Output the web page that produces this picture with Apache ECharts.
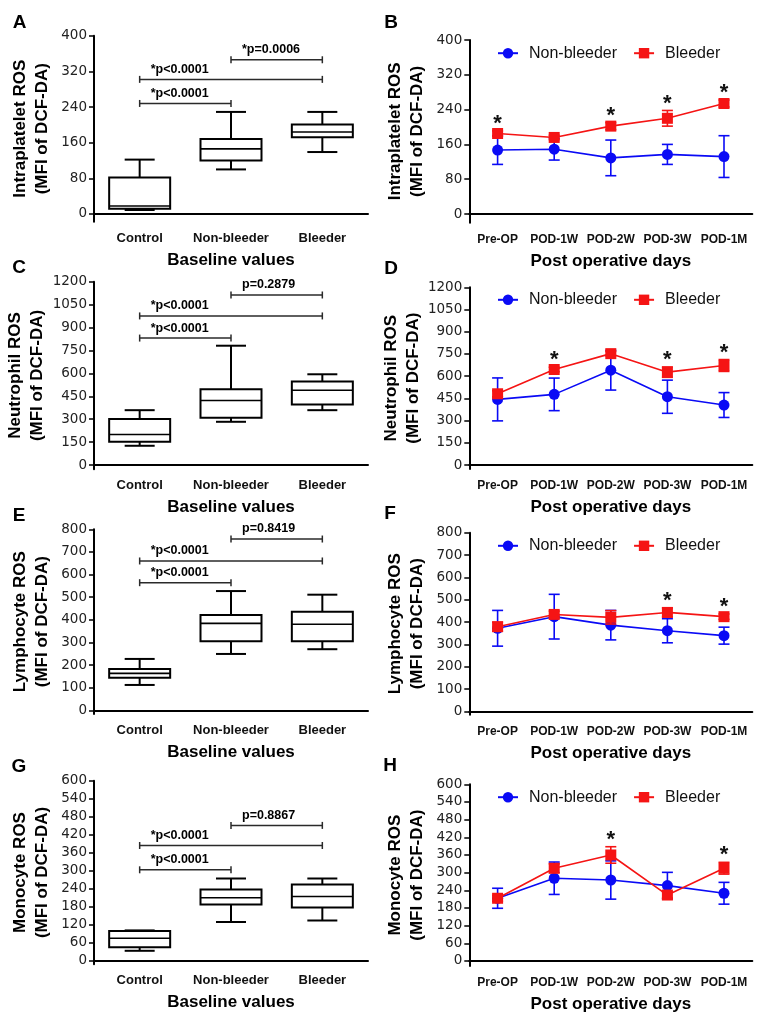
<!DOCTYPE html>
<html><head><meta charset="utf-8">
<script src="https://cdn.jsdelivr.net/npm/echarts@6/dist/echarts.min.js"></script>
<style>html,body{margin:0;padding:0;background:#fff}#c{width:764px;height:1025px}</style>
</head><body><div id="c"></div>
<script>
// ---------- categories ----------
const baselineCats = ['Control', 'Non-bleeder', 'Bleeder'];
const postopCats = ['Pre-OP', 'POD-1W', 'POD-2W', 'POD-3W', 'POD-1M'];
const seriesNames = ['Non-bleeder', 'Bleeder'];

// ---------- tick labels ----------
const plateletTicks = [0, 80, 160, 240, 320, 400];
const neutroTicks = [0, 150, 300, 450, 600, 750, 900, 1050, 1200];
const lymphoTicks = [0, 100, 200, 300, 400, 500, 600, 700, 800];
const monoTicks = [0, 60, 120, 180, 240, 300, 360, 420, 480, 540, 600];

// ---------- baseline box plots: [min, Q1, median, Q3, max] ----------
const plateletBox = [[9, 12, 18, 82, 122], [100, 120, 146, 168, 229], [139, 172, 184, 201, 229]];
const neutroBox = [[126, 152, 200, 302, 359], [283, 309, 422, 496, 781], [359, 396, 489, 546, 594]];
const lymphoBox = [[112, 144, 163, 183, 227], [249, 305, 384, 421, 527], [270, 305, 380, 436, 511]];
const monoBox = [[33, 45, 75, 99, 101], [129, 187, 210, 237, 274], [134, 177, 214, 254, 274]];

// ---------- significance brackets: [fromCat, toCat, level, label] ----------
const plateletBrackets = [[0, 1, 248, '*p<0.0001'], [0, 2, 302, '*p<0.0001'], [1, 2, 346, '*p=0.0006']];
const neutroBrackets = [[0, 1, 831, '*p<0.0001'], [0, 2, 976, '*p<0.0001'], [1, 2, 1113, 'p=0.2879']];
const lymphoBrackets = [[0, 1, 564, '*p<0.0001'], [0, 2, 660, '*p<0.0001'], [1, 2, 757, 'p=0.8419']];
const monoBrackets = [[0, 1, 303, '*p<0.0001'], [0, 2, 384, '*p<0.0001'], [1, 2, 451, 'p=0.8867']];

// ---------- post-operative means and error ----------
const plateletNB = [147, 149, 129, 137, 132];
const plateletNBErr = [33, 25, 41, 23, 48];
const plateletB = [185, 176, 202, 220, 254];
const plateletBErr = [6, 5, 8, 18, 8];
const plateletSig = [1, 0, 1, 1, 1];

const neutroNB = [443, 477, 640, 461, 405];
const neutroNBErr = [145, 110, 134, 112, 84];
const neutroB = [481, 645, 752, 627, 672];
const neutroBErr = [20, 15, 15, 35, 40];
const neutroSig = [0, 1, 0, 1, 1];

const lymphoNB = [372, 424, 386, 361, 339];
const lymphoNBErr = [80, 100, 66, 54, 38];
const lymphoB = [379, 434, 421, 443, 424];
const lymphoBErr = [20, 15, 30, 20, 12];
const lymphoSig = [0, 0, 0, 1, 1];

const monoNB = [213, 281, 275, 256, 230];
const monoNBErr = [34, 55, 65, 45, 37];
const monoB = [213, 315, 360, 224, 315];
const monoBErr = [10, 15, 28, 10, 20];
const monoSig = [0, 0, 1, 0, 1];

// ---------- styling / layout ----------
const FONT = 'Arial, "Liberation Sans", Helvetica, sans-serif';
const TICKFONT = '"DejaVu Sans", Arial, sans-serif';
const BLUE = '#0a0af5';
const RED = '#f51414';

const panels = [
  {kind: 'box', letter: 'A', lp: [19.5, 22.5], grid: {left: 94, top: 35.7, width: 274, height: 186}, min: -17.3, max: 400, ticks: plateletTicks, name: 'Intraplatelet ROS', box: plateletBox, brackets: plateletBrackets},
  {kind: 'line', letter: 'B', lp: [391, 22.5], grid: {left: 469.3, top: 40, width: 283, height: 182.7}, min: -20, max: 400, ticks: plateletTicks, name: 'Intraplatelet ROS', nb: plateletNB, nbErr: plateletNBErr, b: plateletB, bErr: plateletBErr, sig: plateletSig, legendY: 51.7},
  {kind: 'box', letter: 'C', lp: [19, 268], grid: {left: 94, top: 281.7, width: 274, height: 187.6}, min: -28, max: 1200, ticks: neutroTicks, name: 'Neutrophil ROS', box: neutroBox, brackets: neutroBrackets},
  {kind: 'line', letter: 'D', lp: [391, 268.5], grid: {left: 469.3, top: 287.3, width: 283, height: 181.7}, min: -27, max: 1200, ticks: neutroTicks, name: 'Neutrophil ROS', nb: neutroNB, nbErr: neutroNBErr, b: neutroB, bErr: neutroBErr, sig: neutroSig, legendY: 298.3},
  {kind: 'box', letter: 'E', lp: [19, 515.5], grid: {left: 94, top: 529.3, width: 274, height: 184.7}, min: -16.4, max: 800, ticks: lymphoTicks, name: 'Lymphocyte ROS', box: lymphoBox, brackets: lymphoBrackets},
  {kind: 'line', letter: 'F', lp: [390, 513.5], grid: {left: 469.3, top: 532.7, width: 283, height: 182}, min: -15, max: 800, ticks: lymphoTicks, name: 'Lymphocyte ROS', nb: lymphoNB, nbErr: lymphoNBErr, b: lymphoB, bErr: lymphoBErr, sig: lymphoSig, legendY: 544.3},
  {kind: 'box', letter: 'G', lp: [19, 767], grid: {left: 94, top: 780.7, width: 274, height: 183.6}, min: -12, max: 600, ticks: monoTicks, name: 'Monocyte ROS', box: monoBox, brackets: monoBrackets},
  {kind: 'line', letter: 'H', lp: [390, 766], grid: {left: 469.3, top: 784.3, width: 283, height: 181.7}, min: -17, max: 600, ticks: monoTicks, name: 'Monocyte ROS', nb: monoNB, nbErr: monoNBErr, b: monoB, bErr: monoBErr, sig: monoSig, legendY: 795.7}
];

function renderBox(params, api) {
  const i = api.value(0);
  const lo = api.coord([i, api.value(1)]);
  const q1 = api.coord([i, api.value(2)]);
  const md = api.coord([i, api.value(3)]);
  const q3 = api.coord([i, api.value(4)]);
  const hi = api.coord([i, api.value(5)]);
  const cx = lo[0], hw = 30.5, cw = 15;
  const st = {stroke: '#000', lineWidth: 2};
  return {type: 'group', children: [
    {type: 'line', shape: {x1: cx, y1: hi[1], x2: cx, y2: q3[1]}, style: st},
    {type: 'line', shape: {x1: cx - cw, y1: hi[1], x2: cx + cw, y2: hi[1]}, style: st},
    {type: 'line', shape: {x1: cx, y1: lo[1], x2: cx, y2: q1[1]}, style: st},
    {type: 'line', shape: {x1: cx - cw, y1: lo[1], x2: cx + cw, y2: lo[1]}, style: st},
    {type: 'rect', shape: {x: cx - hw, y: q3[1], width: 2 * hw, height: q1[1] - q3[1]}, style: {stroke: '#000', lineWidth: 2, fill: 'rgba(0,0,0,0)'}},
    {type: 'line', shape: {x1: cx - hw, y1: md[1], x2: cx + hw, y2: md[1]}, style: {stroke: '#000', lineWidth: 1.6}}
  ]};
}

function bracketRender(list) {
  return function (params, api) {
    const lv = api.value(2);
    const a = api.coord([api.value(0), lv]);
    const b = api.coord([api.value(1), lv]);
    const st = {stroke: '#2a2a2a', lineWidth: 1.5};
    return {type: 'group', children: [
      {type: 'line', shape: {x1: a[0], y1: a[1], x2: b[0], y2: b[1]}, style: st},
      {type: 'line', shape: {x1: a[0], y1: a[1] - 3.5, x2: a[0], y2: a[1] + 3.5}, style: st},
      {type: 'line', shape: {x1: b[0], y1: b[1] - 3.5, x2: b[0], y2: b[1] + 3.5}, style: st},
      {type: 'text', x: a[0] + 11, y: a[1] - 10, style: {text: list[params.dataIndex][3], font: 'bold 12.5px ' + FONT, fill: '#000', align: 'left', verticalAlign: 'middle'}}
    ]};
  };
}

function errRender(color) {
  return function (params, api) {
    const i = api.value(0);
    const lo = api.coord([i, api.value(1)]);
    const hi = api.coord([i, api.value(2)]);
    const st = {stroke: color, lineWidth: 1.6};
    const cw = 5.5;
    return {type: 'group', children: [
      {type: 'line', shape: {x1: lo[0], y1: lo[1], x2: hi[0], y2: hi[1]}, style: st},
      {type: 'line', shape: {x1: lo[0] - cw, y1: lo[1], x2: lo[0] + cw, y2: lo[1]}, style: st},
      {type: 'line', shape: {x1: hi[0] - cw, y1: hi[1], x2: hi[0] + cw, y2: hi[1]}, style: st}
    ]};
  };
}

function starRender(params, api) {
  const p = api.coord([api.value(0), api.value(1)]);
  return {type: 'text', x: p[0], y: p[1] - 7, style: {text: '*', font: 'bold 22px ' + FONT, fill: '#111', align: 'center', verticalAlign: 'middle'}};
}

const grids = [], xAxes = [], yAxes = [], series = [], legends = [], graphics = [];

panels.forEach(function (p, k) {
  grids.push(Object.assign({containLabel: false}, p.grid));
  const isBox = p.kind === 'box';
  xAxes.push({
    type: 'category', gridIndex: k, data: isBox ? baselineCats : postopCats,
    boundaryGap: true,
    axisLine: {lineStyle: {color: '#000', width: 2}},
    axisTick: {alignWithLabel: true, length: 5, lineStyle: {color: '#000', width: 2}},
    axisLabel: {margin: isBox ? 10 : 11, color: '#111', fontWeight: 'bold', fontSize: isBox ? 13 : 12, fontFamily: FONT, interval: 0},
    name: isBox ? 'Baseline values' : 'Post operative days',
    nameLocation: 'middle', nameGap: 30,
    nameTextStyle: {fontWeight: 'bold', fontSize: 17, color: '#000', fontFamily: FONT},
    splitLine: {show: false}
  });
  yAxes.push({
    type: 'value', gridIndex: k, min: p.min, max: p.max,
    axisLine: {show: true, lineStyle: {color: '#000', width: 2}},
    axisTick: {show: true, length: 5, customValues: p.ticks, lineStyle: {color: '#000', width: 1.5}},
    axisLabel: {show: true, customValues: p.ticks, margin: 7, color: '#222', fontSize: 13.5, fontFamily: TICKFONT,
      formatter: function (v) { return String(v); }},
    splitLine: {show: false},
    name: p.name + '\n(MFI of DCF-DA)',
    nameLocation: 'middle', nameGap: 41, nameRotate: 90,
    nameTextStyle: {fontWeight: 'bold', fontSize: 17, color: '#000', fontFamily: FONT, lineHeight: 22}
  });
  graphics.push({type: 'text', x: p.lp[0], y: p.lp[1], style: {text: p.letter, font: 'bold 19px ' + FONT, fill: '#000', align: 'center', verticalAlign: 'middle'}});

  if (isBox) {
    series.push({
      type: 'custom', xAxisIndex: k, yAxisIndex: k, renderItem: renderBox,
      encode: {x: 0, y: [1, 2, 3, 4, 5]},
      data: p.box.map(function (b, i) { return [i].concat(b); }), silent: true
    });
    series.push({
      type: 'custom', xAxisIndex: k, yAxisIndex: k, renderItem: bracketRender(p.brackets),
      encode: {x: [0, 1], y: 2},
      data: p.brackets.map(function (b) { return [b[0], b[1], b[2]]; }), silent: true
    });
  } else {
    series.push({
      type: 'custom', xAxisIndex: k, yAxisIndex: k, renderItem: errRender(BLUE), z: 2,
      encode: {x: 0, y: [1, 2]},
      data: p.nb.map(function (v, i) { return [i, v - p.nbErr[i], v + p.nbErr[i]]; }), silent: true
    });
    series.push({
      type: 'line', name: seriesNames[0], xAxisIndex: k, yAxisIndex: k, data: p.nb, z: 3,
      symbol: 'circle', symbolSize: 11, itemStyle: {color: BLUE}, lineStyle: {color: BLUE, width: 1.6}, silent: true
    });
    series.push({
      type: 'custom', xAxisIndex: k, yAxisIndex: k, renderItem: errRender(RED), z: 4,
      encode: {x: 0, y: [1, 2]},
      data: p.b.map(function (v, i) { return [i, v - p.bErr[i], v + p.bErr[i]]; }), silent: true
    });
    series.push({
      type: 'line', name: seriesNames[1], xAxisIndex: k, yAxisIndex: k, data: p.b, z: 5,
      symbol: 'rect', symbolSize: 11, itemStyle: {color: RED}, lineStyle: {color: RED, width: 1.6}, silent: true
    });
    const stars = [];
    p.sig.forEach(function (s, i) { if (s) stars.push([i, p.b[i] + p.bErr[i]]); });
    series.push({
      type: 'custom', xAxisIndex: k, yAxisIndex: k, renderItem: starRender, z: 6,
      encode: {x: 0, y: 1}, data: stars, silent: true
    });
    legends.push({
      left: 497, top: p.legendY - 6.5, orient: 'horizontal', padding: 0,
      itemWidth: 20, itemHeight: 13, itemGap: 16, selectedMode: false,
      data: seriesNames,
      textStyle: {fontSize: 16, color: '#111', fontFamily: FONT, padding: [0, 0, 0, 6]}
    });
  }
});

const chart = echarts.init(document.getElementById('c'), null, {renderer: 'canvas'});
chart.setOption({
  animation: false,
  backgroundColor: '#fff',
  grid: grids, xAxis: xAxes, yAxis: yAxes, series: series, legend: legends,
  graphic: graphics
});
</script></body></html>
